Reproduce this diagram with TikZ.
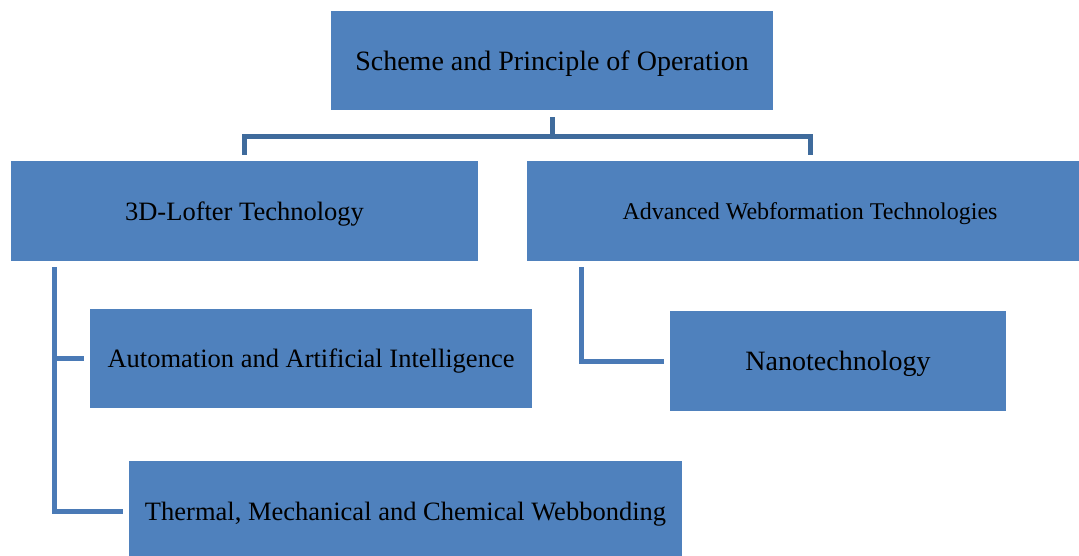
\documentclass[tikz,border=0pt]{standalone}
\usepackage{fontspec}
\setmainfont{Liberation Serif}
\definecolor{boxBlue}{HTML}{4F81BD}
\definecolor{linkNavy}{HTML}{3F6B9C}
\definecolor{linkBlue}{HTML}{4A7AB6}
\usepackage{tikz}

\begin{document}
\begin{tikzpicture}[
                x=1pt, y=-1pt,
                topicbox/.style={fill=boxBlue, draw=none, inner sep=0pt,
                                 minimum height=100pt, align=center, text depth=0pt,
                                 font=\fontsize{26.5}{30}\selectfont},
                toplink/.style={draw=linkNavy, line width=5pt,
                                shorten <=7pt, shorten >=6pt},
                branch/.style={draw=linkBlue, line width=5pt,
                               shorten <=6pt, shorten >=6pt}
            ]
                \useasboundingbox (0,0) rectangle (1079,556);
                \node[topicbox, minimum width=442pt, minimum height=99pt,
                      font=\fontsize{28}{32}\selectfont] (scheme) at (552,60.5)
                    {Scheme and Principle of Operation};
                \node[topicbox, minimum width=467pt] (lofter) at (244.5,211)
                    {3D-Lofter Technology};
                \node[topicbox, minimum width=566pt,
                      font=\fontsize{24}{28}\selectfont] (webform) at (810,211)
                    {Advanced Webformation Technologies};
                \node[topicbox, minimum width=442pt, minimum height=99pt] (auto) at (311,358.5)
                    {Automation and Artificial Intelligence};
                \node[topicbox, minimum width=553pt] (bond) at (405.5,511)
                    {Thermal, Mechanical and Chemical Webbonding};
                \node[topicbox, minimum width=336pt,
                      font=\fontsize{28}{32}\selectfont] (nano) at (838,361)
                    {Nanotechnology};
                % top level split
                \draw[toplink] (scheme.south) -- ++(0,26) -| (lofter.north);
                \draw[toplink] (scheme.south) -- ++(0,26) -| (webform.north);
                % side branches
                \draw[branch] ([xshift=44pt]lofter.south west) |- (auto.west);
                \draw[branch] ([xshift=44pt]lofter.south west) |- (bond.west);
                \draw[branch] ([xshift=55pt]webform.south west) |- (nano.west);
            \end{tikzpicture}
\end{document}
